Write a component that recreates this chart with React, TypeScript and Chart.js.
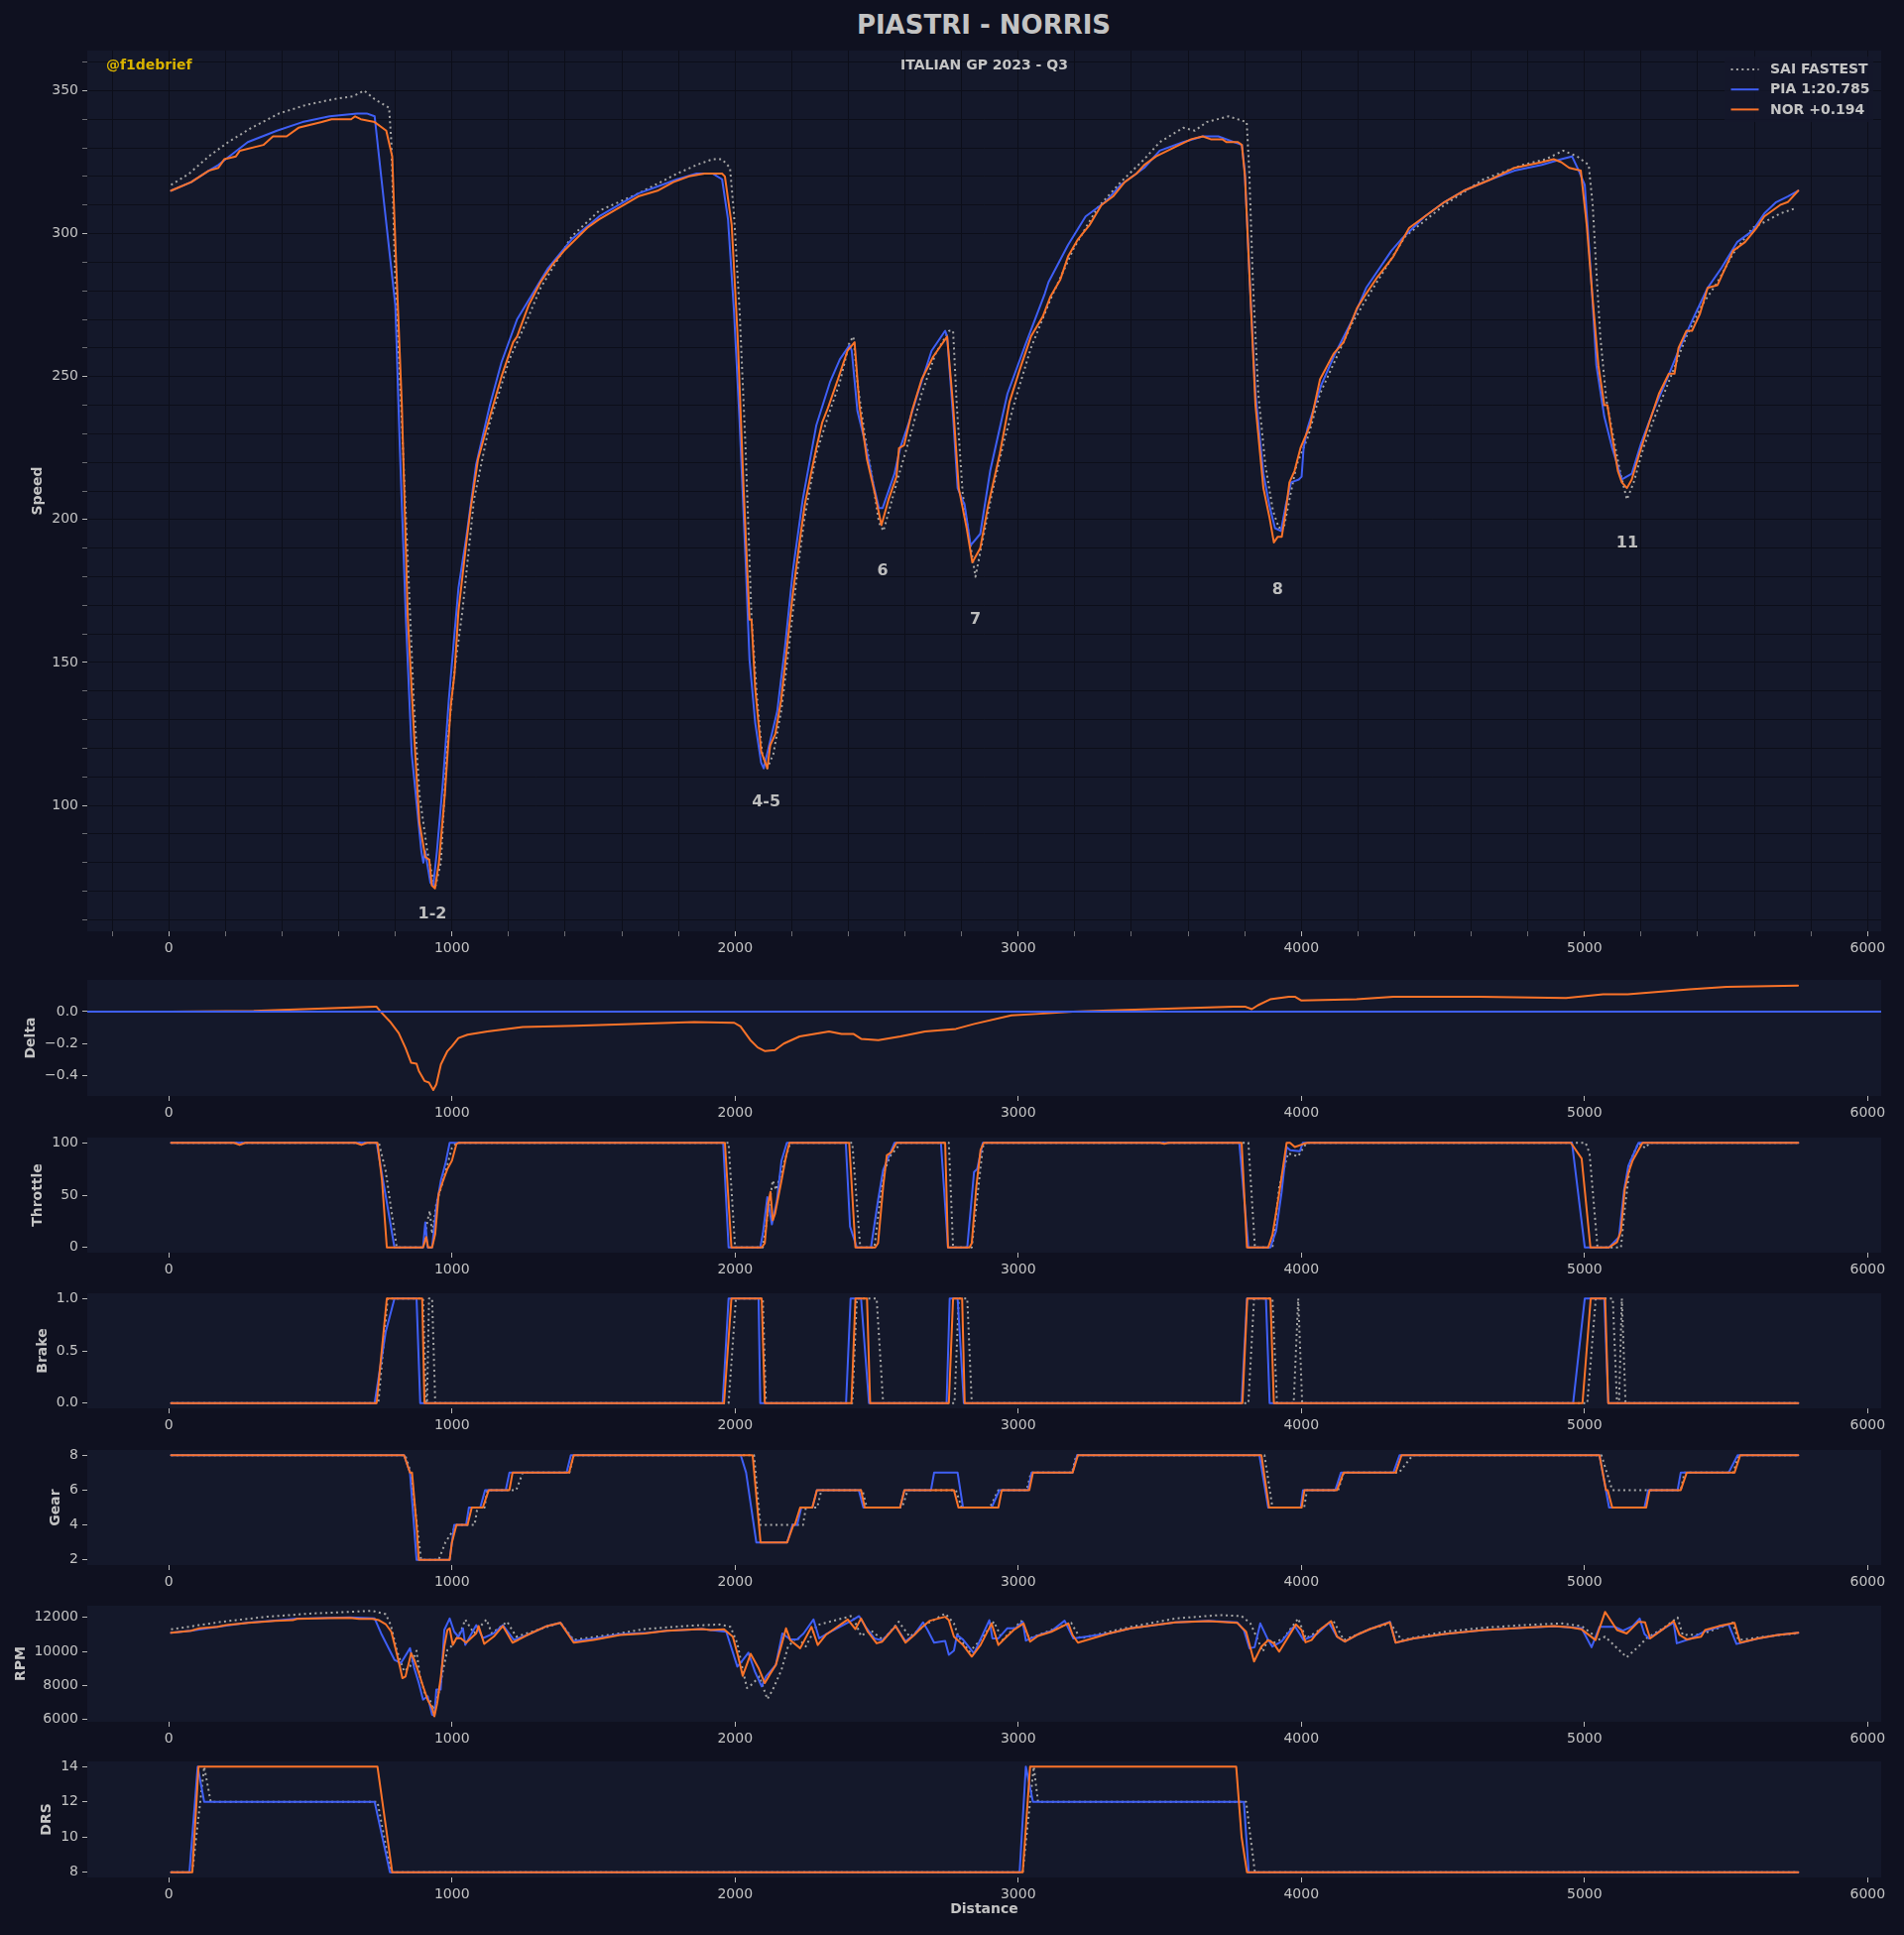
import React, { useEffect, useRef } from 'react';
import { Chart, registerables } from 'chart.js';

Chart.register(...registerables);
Chart.defaults.font.family = "'DejaVu Sans', sans-serif";

type Pt = [number, number];

// ---------------- data (distance [m], value) ----------------
const SPEED_SAI: Pt[] = [[8,317],[72,321],[141,327],[210,332],[292,337],[389,342],[485,345],[582,347],[651,348],[690,350],[727,347],[778,344],[786,332],[800,283],[823,234],[844,186],[865,137],[885,104],[913,84],[940,71],[961,80],[982,119],[1009,147],[1037,168],[1078,207],[1134,234],[1203,256],[1258,268],[1313,281],[1423,299],[1520,308],[1658,314],[1796,321],[1864,324],[1920,326],[1954,326],[1982,323],[1996,307],[2016,273],[2037,225],[2058,166],[2078,137],[2096,118],[2114,113],[2135,118],[2163,133],[2190,155],[2218,180],[2246,201],[2287,223],[2328,236],[2370,248],[2404,262],[2418,264],[2432,248],[2459,229],[2487,213],[2508,199],[2524,196],[2549,205],[2577,215],[2618,229],[2659,244],[2708,258],[2756,266],[2770,266],[2783,240],[2804,209],[2825,195],[2849,180],[2873,192],[2907,209],[2949,227],[2990,242],[3045,260],[3114,277],[3197,295],[3280,309],[3362,318],[3445,326],[3500,332],[3583,337],[3624,336],[3666,339],[3742,341],[3807,339],[3816,322],[3829,283],[3848,244],[3873,219],[3900,203],[3921,197],[3940,198],[3962,209],[3983,219],[4024,229],[4066,244],[4121,256],[4176,268],[4229,277],[4367,299],[4505,310],[4643,319],[4781,324],[4863,326],[4925,329],[4974,327],[5015,324],[5029,310],[5042,287],[5056,264],[5077,242],[5098,231],[5125,217],[5150,207],[5174,213],[5208,225],[5249,236],[5305,250],[5360,264],[5415,275],[5470,283],[5525,293],[5594,302],[5635,304],[5691,307],[5750,309]];
const SPEED_PIA: Pt[] = [[8,315],[79,318],[141,322],[175,324],[279,332],[382,336],[472,339],[568,341],[665,342],[699,342],[727,341],[761,310],[800,275],[816,225],[837,166],[858,118],[878,98],[892,84],[899,80],[906,84],[912,80],[924,73],[934,72],[947,84],[968,108],[989,137],[1009,160],[1023,176],[1051,194],[1085,219],[1134,240],[1175,255],[1230,270],[1285,279],[1340,288],[1423,298],[1520,306],[1658,314],[1796,319],[1864,321],[1920,321],[1954,319],[1975,305],[1996,273],[2016,234],[2037,186],[2051,151],[2071,129],[2092,115],[2101,113],[2149,133],[2177,156],[2204,182],[2239,207],[2287,233],[2335,248],[2370,256],[2404,261],[2412,259],[2432,238],[2459,227],[2487,213],[2508,204],[2521,204],[2563,216],[2583,225],[2611,233],[2645,244],[2694,259],[2742,266],[2749,264],[2770,236],[2786,211],[2811,205],[2832,191],[2866,195],[2901,217],[2962,244],[3025,261],[3094,279],[3107,283],[3176,296],[3238,306],[3307,311],[3362,317],[3445,323],[3500,329],[3583,332],[3652,334],[3707,334],[3790,331],[3800,322],[3818,283],[3838,244],[3866,216],[3887,205],[3907,197],[3928,196],[3945,205],[3964,213],[3991,214],[4001,215],[4008,225],[4022,232],[4070,247],[4119,258],[4181,270],[4229,281],[4318,294],[4353,298],[4436,306],[4505,311],[4574,315],[4670,319],[4753,322],[4849,324],[4918,326],[4956,327],[4980,322],[5001,317],[5022,287],[5042,254],[5070,236],[5098,225],[5132,214],[5167,216],[5201,227],[5243,238],[5291,249],[5332,259],[5387,271],[5435,281],[5484,288],[5539,297],[5594,301],[5635,307],[5677,311],[5718,313],[5755,315]];
const SPEED_NOR: Pt[] = [[8,315],[79,318],[141,322],[175,323],[196,326],[237,327],[251,329],[334,331],[368,334],[416,334],[458,337],[540,339],[575,340],[644,340],[658,341],[678,340],[727,339],[768,336],[789,327],[800,297],[823,240],[844,166],[865,127],[885,94],[906,82],[920,81],[929,72],[940,71],[954,80],[975,104],[996,135],[1009,146],[1023,168],[1037,180],[1051,192],[1065,203],[1092,221],[1134,236],[1175,250],[1216,262],[1230,264],[1271,275],[1313,283],[1354,289],[1396,294],[1437,298],[1478,302],[1520,305],[1589,309],[1658,313],[1726,315],[1782,318],[1837,320],[1892,321],[1954,321],[1964,320],[1988,303],[2009,264],[2030,211],[2051,165],[2058,165],[2071,141],[2092,119],[2114,113],[2124,121],[2142,125],[2163,137],[2183,155],[2204,174],[2225,190],[2246,205],[2266,215],[2287,225],[2308,234],[2328,239],[2363,249],[2397,259],[2422,262],[2439,240],[2466,221],[2494,209],[2517,198],[2542,207],[2570,215],[2579,225],[2597,226],[2625,238],[2659,249],[2700,257],[2749,264],[2770,240],[2790,211],[2818,197],[2838,185],[2866,190],[2894,205],[2935,223],[2969,241],[3004,252],[3045,264],[3087,271],[3114,278],[3149,284],[3176,292],[3211,298],[3252,303],[3294,310],[3335,313],[3376,318],[3418,321],[3445,324],[3487,327],[3528,329],[3569,331],[3611,333],[3652,334],[3680,333],[3721,333],[3735,332],[3776,332],[3790,331],[3801,320],[3818,283],[3838,240],[3866,211],[3887,201],[3903,192],[3917,194],[3931,194],[3945,203],[3958,213],[3976,217],[3997,225],[4031,233],[4066,249],[4114,258],[4149,262],[4197,274],[4229,279],[4270,285],[4325,292],[4381,302],[4436,306],[4505,311],[4574,315],[4670,319],[4753,323],[4849,325],[4891,326],[4918,325],[4946,323],[4987,322],[5008,303],[5029,277],[5049,254],[5070,240],[5081,240],[5098,229],[5118,217],[5132,213],[5150,211],[5167,214],[5194,223],[5229,234],[5263,244],[5298,251],[5318,251],[5332,260],[5360,266],[5380,266],[5408,272],[5435,281],[5470,282],[5525,294],[5567,297],[5608,302],[5635,306],[5691,310],[5718,311],[5755,315]];

const DELTA_NOR: Pt[] = [[8,0],[300,0.005],[727,0.031],[734,0.03],[750,-0.004],[781,-0.062],[812,-0.134],[836,-0.227],[856,-0.32],[875,-0.326],[883,-0.371],[903,-0.433],[919,-0.443],[934,-0.49],[945,-0.454],[961,-0.33],[984,-0.247],[1000,-0.216],[1023,-0.165],[1055,-0.144],[1125,-0.124],[1250,-0.097],[1437,-0.089],[1856,-0.066],[1997,-0.07],[2019,-0.093],[2054,-0.178],[2080,-0.224],[2106,-0.247],[2141,-0.24],[2172,-0.2],[2228,-0.155],[2280,-0.14],[2332,-0.124],[2376,-0.14],[2419,-0.14],[2445,-0.17],[2506,-0.178],[2584,-0.155],[2671,-0.124],[2780,-0.108],[2845,-0.077],[2976,-0.023],[3063,-0.015],[3193,0],[3324,0.008],[3760,0.03],[3803,0.03],[3825,0.015],[3847,0.04],[3890,0.077],[3956,0.093],[3977,0.093],[3999,0.07],[4195,0.077],[4325,0.093],[4630,0.093],[4935,0.085],[5066,0.108],[5153,0.108],[5371,0.139],[5502,0.155],[5754,0.162]];
const DELTA_PIA: Pt[] = [[-300,0],[6100,0]];

const THROTTLE_SAI: Pt[] = [[8,100],[742,100],[766,73],[805,0],[898,0],[914,26],[922,35],[930,13],[945,42],[969,64],[1000,95],[1016,100],[1977,100],[2000,0],[2098,0],[2133,64],[2145,55],[2180,87],[2195,100],[2414,100],[2442,0],[2492,0],[2523,70],[2547,87],[2586,100],[2755,100],[2770,0],[2836,0],[2875,96],[2885,100],[3813,100],[3836,0],[3898,0],[3922,58],[3953,90],[3989,87],[4008,96],[4020,100],[5004,100],[5018,90],[5046,0],[5129,0],[5142,36],[5163,83],[5191,100],[5215,95],[5230,100],[5750,100]];
const THROTTLE_PIA: Pt[] = [[8,100],[734,100],[797,0],[898,0],[906,24],[914,0],[930,0],[945,39],[961,64],[977,80],[992,100],[1958,100],[1977,0],[2089,0],[2098,13],[2114,48],[2130,22],[2148,45],[2164,83],[2183,100],[2391,100],[2406,20],[2430,0],[2480,0],[2505,45],[2523,74],[2563,100],[2727,100],[2752,0],[2820,0],[2844,72],[2855,75],[2875,100],[3781,100],[3813,0],[3891,0],[3911,16],[3930,52],[3948,96],[3961,93],[3995,92],[4005,100],[4956,100],[5001,0],[5087,0],[5122,10],[5140,55],[5155,78],[5191,100],[5755,100]];
const THROTTLE_NOR: Pt[] = [[8,100],[230,100],[250,98],[270,100],[660,100],[680,98],[700,100],[737,100],[753,64],[770,0],[898,0],[909,10],[916,0],[930,0],[941,13],[953,51],[969,64],[984,75],[1000,83],[1016,99],[1023,100],[1964,100],[1987,0],[2094,0],[2105,4],[2117,42],[2125,53],[2133,26],[2141,32],[2164,64],[2180,87],[2192,100],[2403,100],[2425,0],[2495,0],[2505,4],[2523,58],[2536,88],[2552,91],[2570,100],[2742,100],[2752,0],[2828,0],[2836,4],[2852,58],[2867,93],[2878,100],[3500,100],[3516,99],[3530,100],[3789,100],[3808,0],[3883,0],[3898,12],[3922,52],[3948,100],[3960,100],[3977,96],[4008,99],[4022,100],[4952,100],[4990,85],[5021,0],[5087,0],[5115,5],[5129,16],[5142,55],[5156,72],[5170,83],[5205,100],[5755,100]];

const BRAKE_SAI: Pt[] = [[8,0],[740,0],[773,1],[898,1],[909,0],[912,0],[919,1],[930,1],[941,0],[1977,0],[2003,1],[2098,1],[2109,0],[2414,0],[2430,1],[2500,1],[2523,0],[2775,0],[2790,1],[2820,1],[2836,0],[3813,0],[3833,1],[3898,1],[3914,0],[3973,0],[3989,1],[4003,0],[5010,0],[5040,1],[5100,1],[5115,0],[5122,0],[5132,1],[5145,0],[5750,0]];
const BRAKE_PIA: Pt[] = [[8,0],[727,0],[766,0.68],[797,1],[875,1],[888,0],[1956,0],[1977,1],[2083,1],[2089,0],[2392,0],[2408,1],[2445,1],[2473,0],[2747,0],[2758,1],[2786,1],[2808,0],[3789,0],[3808,1],[3875,1],[3888,0],[4960,0],[5001,1],[5070,1],[5084,0],[5755,0]];
const BRAKE_NOR: Pt[] = [[8,0],[734,0],[770,1],[895,1],[903,0],[1961,0],[1987,1],[2094,1],[2105,0],[2411,0],[2425,1],[2466,1],[2477,0],[2755,0],[2770,1],[2802,1],[2811,0],[3792,0],[3809,1],[3891,1],[3903,0],[4993,0],[5022,1],[5073,1],[5084,0],[5755,0]];

const GEAR_SAI: Pt[] = [[8,8],[835,8],[855,7],[891,2],[953,2],[977,3],[1016,4],[1080,4],[1090,5],[1115,5],[1125,6],[1227,6],[1250,7],[1415,7],[1430,8],[2067,8],[2089,4],[2240,4],[2250,5],[2290,5],[2305,6],[2450,6],[2465,5],[2590,5],[2610,6],[2780,6],[2800,5],[2900,5],[2930,6],[3030,6],[3045,7],[3190,7],[3205,8],[3870,8],[3898,5],[4010,5],[4020,6],[4130,6],[4150,7],[4345,7],[4393,8],[5060,8],[5098,6],[5340,6],[5353,7],[5525,7],[5545,8],[5750,8]];
const GEAR_PIA: Pt[] = [[8,8],[831,8],[852,7],[875,2],[992,2],[1000,3],[1008,4],[1050,4],[1060,5],[1100,5],[1117,6],[1190,6],[1203,7],[1405,7],[1420,8],[2020,8],[2039,7],[2075,3],[2184,3],[2203,4],[2219,4],[2234,5],[2273,5],[2289,6],[2437,6],[2453,5],[2583,5],[2598,6],[2692,6],[2703,7],[2786,7],[2805,5],[2906,5],[2934,6],[3035,6],[3047,7],[3192,7],[3208,8],[3852,8],[3883,5],[3998,5],[4006,6],[4120,6],[4140,7],[4325,7],[4347,8],[5053,8],[5087,5],[5212,5],[5225,6],[5329,6],[5340,7],[5509,7],[5541,8],[5755,8]];
const GEAR_NOR: Pt[] = [[8,8],[831,8],[852,7],[859,7],[875,4],[883,2],[992,2],[1000,3],[1016,4],[1055,4],[1070,5],[1109,5],[1130,6],[1203,6],[1214,7],[1414,7],[1430,8],[2062,8],[2090,3],[2184,3],[2206,4],[2211,4],[2230,5],[2273,5],[2289,6],[2445,6],[2458,5],[2583,5],[2598,6],[2773,6],[2789,5],[2930,5],[2942,6],[3039,6],[3052,7],[3192,7],[3211,8],[3859,8],[3886,5],[4001,5],[4011,6],[4126,6],[4149,7],[4333,7],[4354,8],[5053,8],[5076,6],[5082,6],[5098,5],[5218,5],[5230,6],[5340,6],[5361,7],[5530,7],[5550,8],[5755,8]];

const RPM_SAI: Pt[] = [[8,11300],[188,11750],[344,12040],[500,12230],[719,12390],[766,12200],[784,11550],[805,10090],[831,8830],[852,9120],[867,9700],[875,10040],[887,8530],[906,7460],[922,7170],[934,6590],[953,7560],[969,8930],[984,10090],[1003,10390],[1031,11160],[1047,11880],[1078,11070],[1122,11880],[1141,11070],[1195,11750],[1227,10870],[1383,11690],[1430,10680],[1594,11070],[1680,11320],[1836,11510],[1945,11590],[1984,11450],[2008,10480],[2027,8920],[2042,7850],[2062,8100],[2086,8530],[2114,7200],[2133,7750],[2164,8920],[2187,10290],[2219,10830],[2250,10300],[2289,11550],[2414,12100],[2445,10910],[2477,11270],[2523,10680],[2578,11750],[2617,10870],[2680,11650],[2742,12230],[2773,11650],[2789,10870],[2828,9990],[2867,10680],[2914,11750],[2945,10680],[3011,11790],[3039,10770],[3148,11450],[3187,11690],[3219,10770],[3398,11450],[3555,11940],[3711,12140],[3789,12080],[3820,11650],[3844,10770],[3864,9990],[3883,10770],[3898,10480],[3937,10770],[3989,11940],[4016,10770],[4064,11260],[4112,11840],[4150,10670],[4243,11320],[4315,11650],[4354,10670],[4506,11160],[4645,11400],[4783,11550],[4921,11650],[4990,11490],[5025,11060],[5046,10670],[5073,10870],[5149,9660],[5191,10290],[5219,10770],[5281,11400],[5329,12000],[5347,10970],[5412,11000],[5523,11690],[5544,10670],[5650,10900],[5751,11060]];
const RPM_PIA: Pt[] = [[8,11100],[78,11220],[172,11450],[281,11700],[375,11820],[453,11930],[563,11980],[640,12000],[727,11940],[750,11060],[797,9510],[820,9320],[852,10190],[867,9020],[883,8150],[898,7170],[914,7370],[930,6290],[938,6230],[945,7760],[960,7760],[973,11260],[992,11940],[1008,11160],[1023,10870],[1039,11360],[1047,10390],[1086,11550],[1109,10780],[1148,11070],[1180,11550],[1219,10680],[1266,10970],[1336,11500],[1383,11690],[1430,10600],[1500,10750],[1594,11020],[1680,11080],[1758,11220],[1883,11320],[1969,11160],[2008,9110],[2023,9410],[2047,9930],[2070,8820],[2094,7950],[2109,8530],[2144,9210],[2167,11060],[2195,10710],[2219,10710],[2242,11060],[2277,11880],[2297,10770],[2320,11000],[2414,11840],[2438,12080],[2461,11450],[2492,10770],[2520,10650],[2567,11490],[2602,10600],[2633,11000],[2664,11710],[2680,11260],[2703,10520],[2742,10620],[2755,9800],[2773,10050],[2784,10970],[2805,10700],[2844,9890],[2898,11840],[2909,10770],[2930,10770],[2961,11360],[2990,11360],[3016,11750],[3027,10640],[3070,10950],[3117,11200],[3164,11810],[3195,10770],[3320,11060],[3398,11360],[3555,11720],[3672,11800],[3773,11720],[3797,11260],[3817,10190],[3835,10250],[3855,11650],[3880,10770],[3898,10290],[3930,10580],[3967,11360],[3977,11490],[4008,10670],[4055,11030],[4098,11690],[4126,10870],[4154,10580],[4195,10970],[4243,11320],[4313,11750],[4333,10520],[4396,10770],[4506,11030],[4645,11260],[4783,11400],[4893,11480],[4949,11420],[4990,11360],[5025,10250],[5053,11450],[5108,11450],[5136,11220],[5170,11490],[5195,11940],[5212,11030],[5228,10770],[5281,11360],[5315,11690],[5326,10480],[5378,10770],[5426,11200],[5509,11590],[5537,10440],[5613,10770],[5682,10970],[5755,11100]];
const RPM_NOR: Pt[] = [[8,11100],[78,11220],[109,11360],[172,11450],[203,11550],[281,11690],[375,11800],[438,11840],[453,11920],[563,11960],[640,11980],[672,11920],[719,11920],[742,11840],[766,11610],[786,11160],[802,10090],[816,9120],[825,8430],[836,8530],[856,9900],[867,9510],[883,8730],[898,7950],[914,7170],[930,6680],[938,6190],[948,6970],[961,8530],[973,10290],[984,11260],[992,11360],[1003,10390],[1016,10780],[1031,10780],[1050,10520],[1086,11070],[1094,11500],[1114,10450],[1148,10880],[1180,11500],[1214,10520],[1234,10680],[1266,10970],[1336,11500],[1383,11690],[1430,10520],[1500,10680],[1594,10970],[1680,11060],[1758,11220],[1883,11320],[1914,11260],[1961,11300],[1992,10870],[2011,9700],[2027,8570],[2055,9860],[2083,9020],[2105,8140],[2122,8630],[2144,9210],[2164,10380],[2180,11360],[2195,10670],[2230,10190],[2270,11450],[2292,10380],[2320,10970],[2398,11880],[2425,11320],[2445,11940],[2469,11160],[2500,10480],[2520,10580],[2567,11490],[2602,10520],[2633,10970],[2656,11360],[2688,11810],[2742,12040],[2755,11840],[2773,10870],[2805,10380],[2836,9700],[2867,10380],[2906,11650],[2930,10380],[2953,10770],[2984,11260],[3019,11650],[3042,10580],[3070,10910],[3117,11160],[3177,11650],[3192,10970],[3211,10520],[3320,11060],[3398,11360],[3555,11710],[3672,11790],[3773,11690],[3805,11160],[3833,9410],[3859,10290],[3883,10670],[3902,10480],[3922,9990],[3981,11590],[4001,11260],[4015,10540],[4036,10670],[4064,11260],[4105,11790],[4126,10870],[4154,10580],[4195,10970],[4243,11320],[4313,11710],[4333,10520],[4396,10770],[4506,11030],[4645,11260],[4783,11400],[4893,11490],[4949,11420],[4990,11300],[5039,10670],[5073,12330],[5115,11260],[5149,11060],[5191,11750],[5214,11710],[5232,10770],[5281,11360],[5315,11790],[5336,10970],[5361,10710],[5412,10870],[5426,11260],[5474,11490],[5530,11690],[5550,10520],[5613,10770],[5682,10970],[5755,11100]];

const DRS_SAI: Pt[] = [[8,8],[83,8],[125,14],[148,12],[737,12],[784,8],[3016,8],[3055,14],[3070,12],[3805,12],[3836,8],[5750,8]];
const DRS_PIA: Pt[] = [[8,8],[73,8],[102,14],[125,12],[727,12],[781,8],[3005,8],[3027,14],[3052,12],[3797,12],[3814,8],[5755,8]];
const DRS_NOR: Pt[] = [[8,8],[83,8],[105,14],[737,14],[789,8],[3016,8],[3042,14],[3770,14],[3789,10],[3808,8],[5755,8]];

const CORNER_LABELS = ['1-2', '4-5', '6', '7', '8', '11'];
const CORNER_DIST = [931, 2110, 2521, 2849, 3916, 5151];
const CORNER_SPEED = [62, 101, 182, 165, 175.5, 191.5];

// ---------------- ticks ----------------
const X_TICKS = [0, 1000, 2000, 3000, 4000, 5000, 6000];
const SPEED_TICKS = [100, 150, 200, 250, 300, 350];
const DELTA_TICKS = [-0.4, -0.2, 0];
const THROTTLE_TICKS = [0, 50, 100];
const BRAKE_TICKS = [0, 0.5, 1];
const GEAR_TICKS = [2, 4, 6, 8];
const RPM_TICKS = [6000, 8000, 10000, 12000];
const DRS_TICKS = [8, 10, 12, 14];
const X_MINOR_STEP = 200;
const SPEED_MINOR_STEP = 10;

const LEGEND_LABELS = ['SAI FASTEST', 'PIA 1:20.785', 'NOR +0.194'];
const TITLE = 'PIASTRI - NORRIS';
const SUBTITLE = 'ITALIAN GP 2023 - Q3';
const WATERMARK = '@f1debrief';

// ---------------- style ----------------
const FIG_BG = '#0f1120';
const AX_BG = '#14182a';
const GRID = '#0c0e19';
const TEXT = '#c4c4c4';
const TICK = '#b8b8b8';
const TICK_MINOR = 'rgba(184,184,184,0.55)';
const ANNOT = '#bdbdbd';
const GOLD = '#d9b300';
const SAI_C = '#a6a6a6';
const PIA_C = '#3f5ff5';
const NOR_C = '#fb7329';
const DOT = [2, 3.4];
const FONT = "'DejaVu Sans', sans-serif";

const X_MIN = -288;
const X_MAX = 6048;
const Y_AXIS_W = 88;
const RIGHT_PAD = 23;
const PAD_TOP = 14;

type Series = { data: Pt[]; color: string; dash?: number[] };
type PanelCfg = {
  title: string;
  top: number;
  bottom: number;
  ymin: number;
  ymax: number;
  ticks: number[];
  fmt: (v: number) => string;
  titleX: number;
  series: Series[];
  speed?: boolean;
  last?: boolean;
};

const minus = (s: string) => s.replace('-', '\u2212');

function withMinor(major: number[], step: number, lo: number, hi: number): { value: number; major: boolean }[] {
  const out: { value: number; major: boolean }[] = [];
  const start = Math.ceil(lo / step);
  const end = Math.floor(hi / step);
  for (let k = start; k <= end; k++) {
    const v = Math.round(k * step * 1000) / 1000;
    out.push({ value: v, major: major.some((m) => Math.abs(m - v) < 1e-9) });
  }
  return out;
}

const PANELS: PanelCfg[] = [
  { title: 'Speed', top: 51, bottom: 939, ymin: 56, ymax: 364, ticks: SPEED_TICKS, titleX: 38.6, speed: true,
    fmt: (v) => String(Math.round(v)),
    series: [{ data: SPEED_NOR, color: NOR_C }, { data: SPEED_PIA, color: PIA_C }, { data: SPEED_SAI, color: SAI_C, dash: DOT }] },
  { title: 'Delta', top: 988, bottom: 1105, ymin: -0.527, ymax: 0.198, ticks: DELTA_TICKS, titleX: 31,
    fmt: (v) => (Math.abs(v) < 1e-9 ? '0.0' : minus(v.toFixed(1))),
    series: [{ data: DELTA_PIA, color: PIA_C }, { data: DELTA_NOR, color: NOR_C }] },
  { title: 'Throttle', top: 1147, bottom: 1263, ymin: -5, ymax: 105, ticks: THROTTLE_TICKS, titleX: 38.6,
    fmt: (v) => String(v),
    series: [{ data: THROTTLE_NOR, color: NOR_C }, { data: THROTTLE_PIA, color: PIA_C }, { data: THROTTLE_SAI, color: SAI_C, dash: DOT }] },
  { title: 'Brake', top: 1304, bottom: 1420, ymin: -0.05, ymax: 1.05, ticks: BRAKE_TICKS, titleX: 43.5,
    fmt: (v) => v.toFixed(1),
    series: [{ data: BRAKE_NOR, color: NOR_C }, { data: BRAKE_PIA, color: PIA_C }, { data: BRAKE_SAI, color: SAI_C, dash: DOT }] },
  { title: 'Gear', top: 1462, bottom: 1578, ymin: 1.7, ymax: 8.3, ticks: GEAR_TICKS, titleX: 56,
    fmt: (v) => String(v),
    series: [{ data: GEAR_NOR, color: NOR_C }, { data: GEAR_PIA, color: PIA_C }, { data: GEAR_SAI, color: SAI_C, dash: DOT }] },
  { title: 'RPM', top: 1619, bottom: 1736, ymin: 5870, ymax: 12690, ticks: RPM_TICKS, titleX: 21,
    fmt: (v) => String(v),
    series: [{ data: RPM_NOR, color: NOR_C }, { data: RPM_PIA, color: PIA_C }, { data: RPM_SAI, color: SAI_C, dash: DOT }] },
  { title: 'DRS', top: 1776, bottom: 1893, ymin: 7.7, ymax: 14.3, ticks: DRS_TICKS, titleX: 47, last: true,
    fmt: (v) => String(v),
    series: [{ data: DRS_NOR, color: NOR_C }, { data: DRS_PIA, color: PIA_C }, { data: DRS_SAI, color: SAI_C, dash: DOT }] },
];

const bgPlugin = {
  id: 'axbg',
  beforeDraw(chart: any) {
    const { ctx, chartArea: a } = chart;
    ctx.save();
    ctx.fillStyle = AX_BG;
    ctx.fillRect(a.left, a.top, a.right - a.left, a.bottom - a.top);
    ctx.restore();
  },
};

const speedDecor = {
  id: 'speedDecor',
  afterDatasetsDraw(chart: any) {
    const { ctx, chartArea: a, scales } = chart;
    const xs = scales.x;
    const ys = scales.y;
    ctx.save();
    ctx.textAlign = 'center';
    ctx.textBaseline = 'middle';
    ctx.font = `bold 16px ${FONT}`;
    ctx.fillStyle = ANNOT;
    CORNER_LABELS.forEach((t, i) => {
      ctx.fillText(t, xs.getPixelForValue(CORNER_DIST[i]), ys.getPixelForValue(CORNER_SPEED[i]));
    });
    ctx.font = `bold 14px ${FONT}`;
    ctx.textAlign = 'left';
    ctx.fillStyle = GOLD;
    ctx.fillText(WATERMARK, a.left + 19, a.top + 15);
    ctx.textAlign = 'center';
    ctx.fillStyle = TEXT;
    ctx.fillText(SUBTITLE, (a.left + a.right) / 2, a.top + 15);
    ctx.globalAlpha = 0.8;
    ctx.fillStyle = AX_BG;
    ctx.fillRect(a.right - 158, a.top + 6, 150, 66);
    ctx.globalAlpha = 1;
    const colors = [SAI_C, PIA_C, NOR_C];
    LEGEND_LABELS.forEach((lab, i) => {
      const y = a.top + 19 + i * 20.2;
      ctx.beginPath();
      ctx.strokeStyle = colors[i];
      ctx.lineWidth = 2;
      ctx.setLineDash(i === 0 ? DOT : []);
      ctx.moveTo(a.right - 151.5, y);
      ctx.lineTo(a.right - 123.5, y);
      ctx.stroke();
      ctx.setLineDash([]);
      ctx.fillStyle = TEXT;
      ctx.textAlign = 'left';
      ctx.font = `bold 14px ${FONT}`;
      ctx.fillText(lab, a.right - 112, y + 0.5);
    });
    ctx.restore();
  },
};

function Panel({ cfg }: { cfg: PanelCfg }) {
  const ref = useRef<HTMLCanvasElement>(null);
  const xh = cfg.last ? 52 : 34;
  const canvasTop = cfg.top - PAD_TOP;
  const height = cfg.bottom - cfg.top + PAD_TOP + xh;

  useEffect(() => {
    if (!ref.current) return;
    const isSpeed = !!cfg.speed;
    const xTicks = isSpeed
      ? withMinor(X_TICKS, X_MINOR_STEP, X_MIN, X_MAX)
      : X_TICKS.map((v) => ({ value: v, major: true }));
    const yTicks = isSpeed
      ? withMinor(cfg.ticks, SPEED_MINOR_STEP, cfg.ymin, cfg.ymax)
      : cfg.ticks.map((v) => ({ value: v, major: true }));
    const isMajor = (list: { value: number; major: boolean }[], v: number) =>
      list.some((t) => t.major && Math.abs(t.value - v) < 1e-9);

    const chart = new Chart(ref.current, {
      type: 'line',
      data: {
        datasets: cfg.series.map((s) => ({
          data: s.data.map(([x, y]) => ({ x, y })),
          borderColor: s.color,
          borderWidth: 2,
          borderDash: s.dash || [],
          borderJoinStyle: 'round',
          borderCapStyle: s.dash ? 'butt' : 'round',
          pointRadius: 0,
          fill: false,
          tension: 0,
        })),
      },
      options: {
        animation: false,
        responsive: false,
        devicePixelRatio: 1,
        events: [],
        layout: { padding: { top: PAD_TOP, left: 0, right: RIGHT_PAD, bottom: 0 } },
        plugins: { legend: { display: false }, tooltip: { enabled: false }, title: { display: false } },
        scales: {
          x: {
            type: 'linear',
            min: X_MIN,
            max: X_MAX,
            afterBuildTicks: (s: any) => { s.ticks = xTicks.map((t) => ({ value: t.value })); },
            afterFit: (s: any) => { s.height = xh; },
            border: { display: false },
            grid: {
              display: true,
              drawOnChartArea: isSpeed,
              color: GRID,
              lineWidth: 1,
              drawTicks: true,
              tickLength: 5,
              tickWidth: 1,
              tickColor: (c: any) => (c.tick && isMajor(xTicks, c.tick.value) ? TICK : TICK_MINOR),
            },
            ticks: {
              autoSkip: false,
              maxRotation: 0,
              minRotation: 0,
              padding: 4,
              color: TEXT,
              font: { family: FONT, size: 14 },
              callback: (v: any) => (isMajor(xTicks, Number(v)) ? String(Math.round(Number(v))) : ''),
            },
            title: cfg.last
              ? { display: true, text: 'Distance', color: TEXT, font: { family: FONT, size: 14, weight: 'bold' }, padding: { top: 0, bottom: 11.6 } }
              : { display: false },
          },
          y: {
            type: 'linear',
            min: cfg.ymin,
            max: cfg.ymax,
            afterBuildTicks: (s: any) => { s.ticks = yTicks.map((t) => ({ value: t.value })); },
            afterFit: (s: any) => { s.width = Y_AXIS_W; },
            border: { display: false },
            grid: {
              display: true,
              drawOnChartArea: isSpeed,
              color: GRID,
              lineWidth: 1,
              drawTicks: true,
              tickLength: 5,
              tickWidth: 1,
              tickColor: (c: any) => (c.tick && isMajor(yTicks, c.tick.value) ? TICK : TICK_MINOR),
            },
            ticks: {
              autoSkip: false,
              padding: 4,
              color: TEXT,
              font: { family: FONT, size: 14 },
              callback: (v: any) => (isMajor(yTicks, Number(v)) ? cfg.fmt(Number(v)) : ''),
            },
            title: {
              display: true,
              text: cfg.title,
              color: TEXT,
              font: { family: FONT, size: 14, weight: 'bold' },
              padding: { top: cfg.titleX - 8.4, bottom: 0 },
            },
          },
        },
      } as any,
      plugins: isSpeed ? [bgPlugin, speedDecor] : [bgPlugin],
    });
    return () => chart.destroy();
  }, []);

  return (
    <canvas
      ref={ref}
      width={1920}
      height={height}
      style={{ position: 'absolute', left: 0, top: canvasTop, width: 1920, height, display: 'block' }}
    />
  );
}

export default function App() {
  useEffect(() => {
    document.body.style.margin = '0';
    document.body.style.background = FIG_BG;
  }, []);
  return (
    <div style={{ position: 'absolute', left: 0, top: 0, width: 1920, height: 1951, background: FIG_BG, overflow: 'hidden' }}>
      <div
        style={{
          position: 'absolute',
          left: 992,
          top: 25,
          transform: 'translate(-50%, -50%)',
          font: `bold 26px ${FONT}`,
          color: '#c3c3c3',
          whiteSpace: 'nowrap',
        }}
      >
        {TITLE}
      </div>
      {PANELS.map((p) => (
        <Panel key={p.title} cfg={p} />
      ))}
    </div>
  );
}
